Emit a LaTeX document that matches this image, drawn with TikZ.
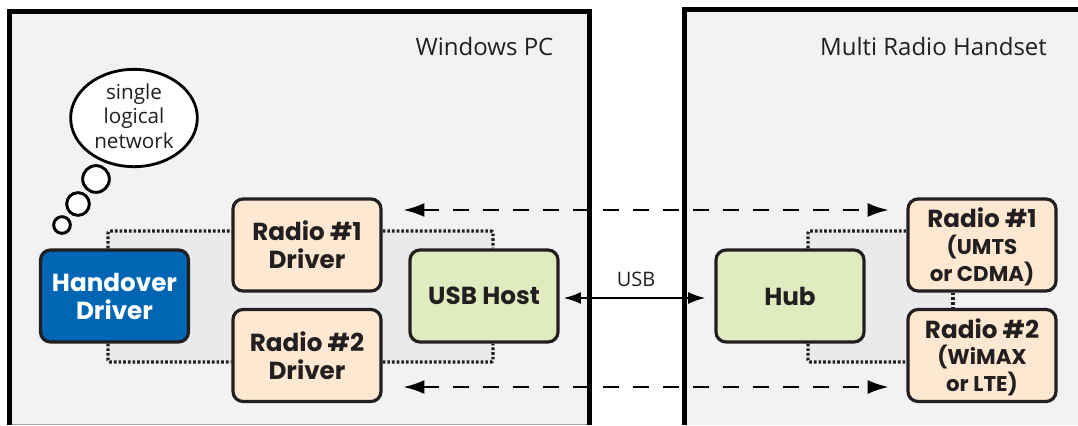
\documentclass[tikz,border=0pt]{standalone}
\usepackage{fontspec}
\setmainfont{Open Sans}
\newfontfamily\boxfont{Poppins}[BoldFont=Poppins Bold]
\usetikzlibrary{arrows.meta,shapes.geometric}
\definecolor{panelbg}{HTML}{F1F2F4}
\definecolor{linkbg}{HTML}{E8EAEB}
\definecolor{peach}{HTML}{FEE8D2}
\definecolor{lime}{HTML}{E0ECC0}
\definecolor{bluebox}{HTML}{0066B3}
\definecolor{ink}{HTML}{231F20}
\pgfdeclarelayer{bg}\pgfsetlayers{bg,main}
\tikzset{
  x=0.75pt,y=-0.75pt,
  panel/.style={draw=black,line width=3.9pt},
  blockbox/.style={draw=ink,line width=2.4pt,rounded corners=7.5pt,minimum width=111pt,minimum height=69pt,inner sep=0pt,align=center,font=\boxfont\bfseries\fontsize{18.5}{21}\selectfont,text=ink},
  peachbox/.style={blockbox,fill=peach},
  limebox/.style={blockbox,fill=lime},
  bluenode/.style={blockbox,fill=bluebox,text=white},
  subline/.style={font=\boxfont\bfseries\fontsize{18.5}{20}\selectfont},
  label/.style={font=\fontsize{15}{18}\selectfont,text=ink,inner sep=0pt},
  title/.style={label,font=\fontsize{18}{21}\selectfont},
  thought/.style={draw=black,line width=2.1pt,fill=white,ellipse,inner sep=0pt},
  thoughttext/.style={align=center,inner sep=0pt,font=\fontsize{15.5}{18.5}\selectfont,text=ink},
  puff/.style={draw=black,line width=2.2pt,fill=white,circle,inner sep=0pt},
  dots/.style={draw=ink,line width=2.4pt,dash pattern=on 2pt off 1.5pt,rounded corners=1.5pt},
  dasharrow/.style={draw=black,line width=2.2pt,dash pattern=on 12pt off 10.5pt,{Latex[length=16pt,width=10.5pt]}-{Latex[length=16pt,width=10.5pt]}},
  solidarrow/.style={draw=black,line width=1.5pt,{Latex[length=13pt,width=9pt]}-{Latex[length=13pt,width=9pt]}},
}
\newcommand{\subtxt}[1]{{\fontsize{16}{20}\selectfont #1}}
\newcommand{\toppad}{\rule{0pt}{17.5pt}}
\begin{document}
\begin{tikzpicture}
\useasboundingbox (0,0) rectangle (1078,425);
% nodes
\node[bluenode] (hand) at (114.5,296) {Handover\\Driver};
\node[peachbox] (r1d) at (307,245) {Radio \#1\\Driver};
\node[peachbox] (r2d) at (307,355.5) {Radio \#2\\Driver};
\node[limebox] (usb) at (484,296) {USB Host};
\node[limebox] (hub) at (790,296) {Hub};
\node[peachbox,subline] (r1) at (982,245) {\toppad Radio \#1\\\subtxt{(UMTS}\\\subtxt{or CDMA)}};
\node[peachbox,subline] (r2) at (982,355.5) {\toppad Radio \#2\\\subtxt{(WiMAX}\\\subtxt{or LTE)}};
\coordinate (tl) at (108,231); \coordinate (tr) at (493,231);
\coordinate (bl) at (108,362); \coordinate (br) at (493,362);
\coordinate (htl) at (808,231); \coordinate (htr) at (953,231);
\coordinate (hbl) at (808,362); \coordinate (hbr) at (953,362);
\begin{pgfonlayer}{bg}
\fill[white] (0,0) rectangle (1078,425);
\fill[panelbg] (10,12) rectangle (589,424);
\fill[gray!70] (12,423.7) rectangle (587,425);
\fill[panelbg] (685,10) rectangle (1078,425);
\fill[linkbg] (tl) rectangle (br);
\fill[linkbg] (htl) rectangle (hbr);
\draw[panel] (9.5,425) -- (9.5,11.5) -- (589.5,11.5) -- (589.5,425);
\draw[panel] (1078,9.8) -- (684.8,9.8) -- (684.8,425);
\draw[dots] (hand.north -| tl) -- (tl) -- (r1d.west |- tl);
\draw[dots] (r1d.east |- tr) -- (tr) -- (usb.north -| tr);
\draw[dots] (hand.south -| bl) -- (bl) -- (r2d.west |- bl);
\draw[dots] (r2d.east |- br) -- (br) -- (usb.south -| br);
\draw[dots] (hub.north -| htl) -- (htl) -- (r1.west |- htl);
\draw[dots] (hub.south -| hbl) -- (hbl) -- (r2.west |- hbl);
\draw[dots] (r1.south -| htr) -- (r2.north -| htr);
\end{pgfonlayer}
% arrows
\coordinate (a1l) at (403,210); \coordinate (a1r) at (889,210);
\coordinate (a2l) at (403,387); \coordinate (a2r) at (889,387);
\draw[dasharrow] (a1l) -- (a1r);
\draw[dasharrow] (a2l) -- (a2r);
\draw[solidarrow] ([shift={(4,2)}]usb.east) -- ([shift={(-9,2)}]hub.west);
% labels
\node[label] (usbl) at (636,279) {USB};
\node[title] (pc) at (484.5,46) {Windows PC};
\node[title] (hs) at (933.5,46) {Multi Radio Handset};
% thought
\node[thought,minimum width=95pt,minimum height=73pt] (th) at (134,118) {};
\node[thoughttext] (thtxt) at (134,116) {single\\logical\\network};
\node[puff,minimum size=20pt] (p1) at (96,179) {};
\node[puff,minimum size=17pt] (p2) at (78,204) {};
\node[puff,minimum size=12.5pt] (p3) at (62,225) {};
\end{tikzpicture}
\end{document}
